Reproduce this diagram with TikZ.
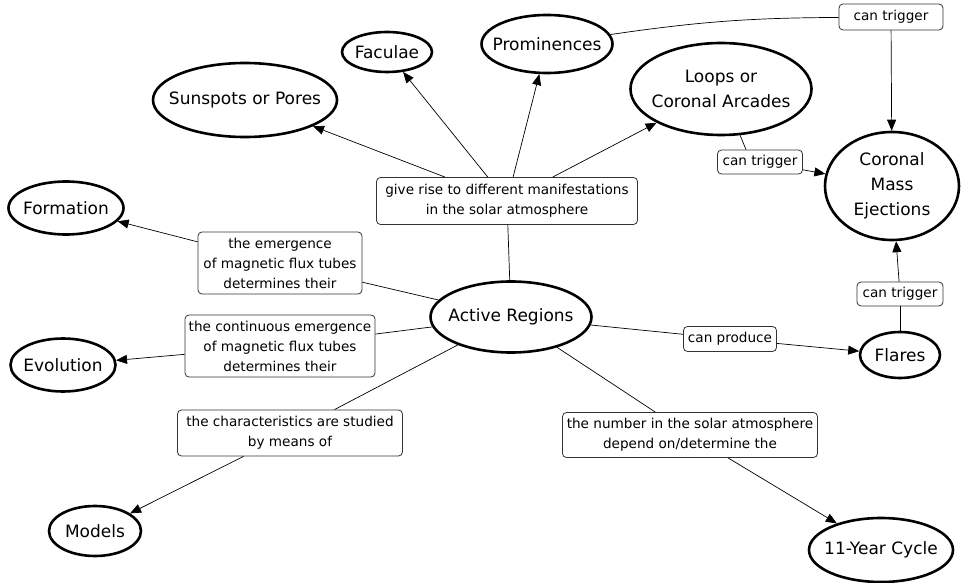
\documentclass[tikz,border=0pt]{standalone}
\usepackage{fontspec}
\setmainfont{DejaVu Sans}
\usetikzlibrary{shapes.geometric,arrows.meta}
\newcommand\conceptfont{\fontsize{17}{25}\selectfont}
\newcommand\linkfont{\fontsize{13.6}{20}\selectfont}
\begin{document}
\begin{tikzpicture}[x=1pt,y=-1pt,
  concept/.style={ellipse,draw,line width=2.6pt,inner sep=0pt},
  ctext/.style={align=center,font=\conceptfont,inner sep=0pt},
  linkbox/.style={rectangle,rounded corners=4pt,draw=black!80,line width=0.8pt,
    fill=white,inner sep=0pt,align=center,font=\linkfont},
  conn/.style={line width=0.7pt},
  arr/.style={conn,-{Triangle[length=11pt,width=9pt]}}]
\useasboundingbox (0,0) rectangle (962,583);
\fill[white] (0,0) rectangle (962,583);

% concepts
\node[concept,minimum width=184pt,minimum height=74pt,label={[ctext]center:Sunspots or Pores}] (sun) at (245,100) {};
\node[concept,minimum width=90pt,minimum height=40pt,label={[ctext]center:Faculae}] (fac) at (387,52) {};
\node[concept,minimum width=131pt,minimum height=58pt,label={[ctext]center:Prominences}] (prom) at (547,44) {};
\node[concept,minimum width=181pt,minimum height=92pt,label={[ctext]center:Loops or\\Coronal Arcades}] (loops) at (721,89) {};
\node[concept,minimum width=134pt,minimum height=108pt,label={[ctext]center:Coronal\\Mass\\Ejections}] (cme) at (892,186) {};
\node[concept,minimum width=115pt,minimum height=53pt,label={[ctext]center:Formation}] (form) at (66,208) {};
\node[concept,minimum width=105pt,minimum height=53pt,label={[ctext]center:Evolution}] (evol) at (63,365) {};
\node[concept,minimum width=161pt,minimum height=71pt,label={[ctext]center:Active Regions}] (ar) at (511,317) {};
\node[concept,minimum width=92pt,minimum height=50pt,label={[ctext]center:Models}] (models) at (95,531) {};
\node[concept,minimum width=144pt,minimum height=64pt,label={[ctext]center:11-Year Cycle}] (cycle) at (881,550) {};
\node[concept,minimum width=80pt,minimum height=46pt,label={[ctext]center:Flares}] (flares) at (900,355) {};

% linking phrases
\node[linkbox,minimum width=261pt,minimum height=47pt] (gr) at (507,201) {give rise to different manifestations\\in the solar atmosphere};
\node[linkbox,minimum width=164pt,minimum height=62pt] (emerg) at (280,263) {the emergence\\of magnetic flux tubes\\determines their};
\node[linkbox,minimum width=190pt,minimum height=62pt] (cont) at (280,346) {the continuous emergence\\of magnetic flux tubes\\determines their};
\node[linkbox,minimum width=225pt,minimum height=46pt] (charac) at (290,433) {the characteristics are studied\\by means of};
\node[linkbox,minimum width=255pt,minimum height=45pt] (num) at (690,435) {the number in the solar atmosphere\\depend on/determine the};
\node[linkbox,minimum width=93pt,minimum height=25pt] (prod) at (730,339) {can produce};
\node[linkbox,minimum width=86pt,minimum height=24pt] (trigF) at (900,294) {can trigger};
\node[linkbox,minimum width=85pt,minimum height=24pt] (trigL) at (760,162) {can trigger};
\node[linkbox,minimum width=104pt,minimum height=26pt] (trigP) at (891,17) {can trigger};

% connectors
\draw[conn] (ar) -- (gr);
\draw[arr] (gr) -- (sun);
\draw[arr] (gr) -- (fac);
\draw[arr] (gr) -- (prom);
\draw[arr] (gr) -- (loops);
\draw[conn] (ar) -- (emerg);
\draw[arr] (emerg) -- (form);
\draw[conn] (ar) -- (cont);
\draw[arr] (cont) -- (evol);
\draw[conn] (ar) -- (charac);
\draw[arr] (charac) -- (models);
\draw[conn] (ar) -- (num);
\draw[arr] (num) -- (cycle);
\draw[conn] (ar) -- (prod);
\draw[arr] (prod) -- (flares);
\draw[conn] (flares) -- (trigF);
\draw[arr] (trigF) -- (cme);
\draw[conn] (loops) -- ([xshift=-14pt]trigL.north);
\draw[arr] (trigL) -- (cme);
\draw[conn] (prom) to[bend left=4] (trigP);
\draw[arr] (trigP) -- (cme);
\end{tikzpicture}
\end{document}
